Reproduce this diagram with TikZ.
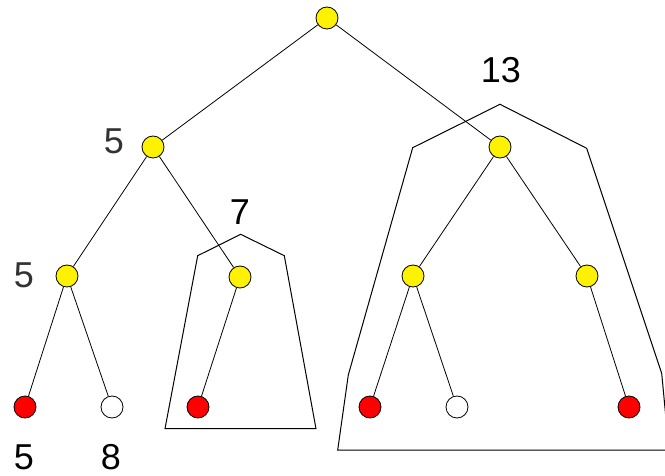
\documentclass[tikz,border=0pt]{standalone}
\usepackage{fontspec}
\setmainfont{Liberation Sans}
\begin{document}
\begin{tikzpicture}[x=1pt,y=-1pt]
        \tikzstyle{vertex}=[circle,draw,line width=0.8pt,minimum size=22pt,inner sep=0pt]
        \tikzstyle{inner}=[vertex,fill=yellow]
        \tikzstyle{hit}=[vertex,fill=red]
        \tikzstyle{miss}=[vertex,fill=white]
        \tikzstyle{cost}=[inner sep=0pt,font=\fontsize{36}{40}\selectfont]
  \useasboundingbox (0,0) rectangle (665,476);
  % tree
  \node[inner] (T_r)  at (327,18)  {};
  \node[inner] (T_a)  at (153,147) {};
  \node[inner] (T_b)  at (500,147) {};
  \node[inner] (T_aa) at (67,276)  {};
  \node[inner] (T_ab) at (240,277) {};
  \node[inner] (T_ba) at (413,276) {};
  \node[inner] (T_bb) at (587,276) {};
  \node[hit]   (L_1)  at (25,407)  {};
  \node[miss]  (L_2)  at (112,407) {};
  \node[hit]   (L_3)  at (198,407) {};
  \node[hit]   (L_4)  at (370,407) {};
  \node[miss]  (L_5)  at (457,407) {};
  \node[hit]   (L_6)  at (629,407) {};
  \draw[line width=0.8pt] (T_r) -- (T_a) -- (T_aa) -- (L_1);
  \draw[line width=0.8pt] (T_aa) -- (L_2);
  \draw[line width=0.8pt] (T_a) -- (T_ab) -- (L_3);
  \draw[line width=0.8pt] (T_r) -- (T_b) -- (T_ba) -- (L_4);
  \draw[line width=0.8pt] (T_ba) -- (L_5);
  \draw[line width=0.8pt] (T_b) -- (T_bb) -- (L_6);
  % hulls
  \draw[line width=1pt] (240.7,234.3) -- (284.3,255.7) -- (316,428.7)
        -- (165,428.7) -- (197.7,255.7) -- cycle;
  \begin{scope}
    \clip (0,0) rectangle (665,476);
    \draw[line width=1pt] (500,104.3) -- (586.7,148.3) -- (661.7,373.3)
          -- (668,440) -- (668,450) -- (337.7,450) -- (348.3,375)
          -- (412.7,147.7) -- cycle;
  \end{scope}
  % costs
  \node[cost,text=black!80] (C_a)  at (114,141) {5};
  \node[cost,text=black!80] (C_aa) at (24,275)  {5};
  \node[cost] (C_ab) at (240,212) {7};
  \node[cost] (C_b)  at (501,70)  {13};
  \node[cost] (C_1)  at (24,457)  {5};
  \node[cost] (C_2)  at (111,457) {8};
    \end{tikzpicture}
\end{document}
